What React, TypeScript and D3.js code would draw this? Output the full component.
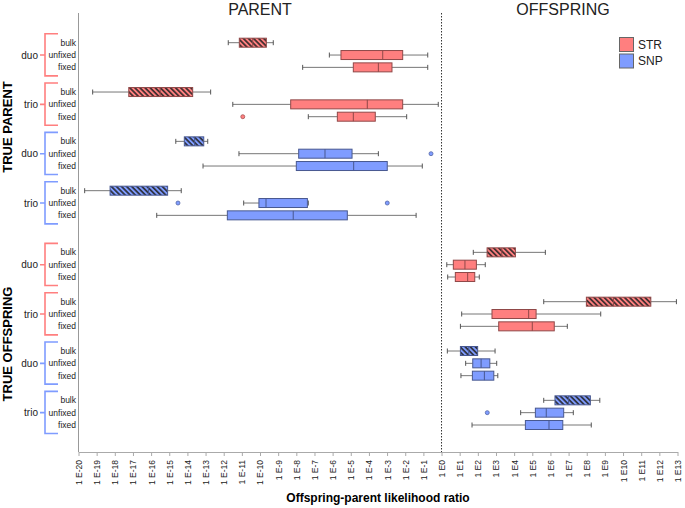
import React, { useEffect, useRef } from 'react';
import * as d3 from 'd3';

// log10 likelihood ratio, each box: [whiskerLow, q1, median, q3, whiskerHigh]
const rowLabels = ['bulk', 'unfixed', 'fixed'];
const groupLabels = ['duo', 'trio', 'duo', 'trio'];
const groupMarkers = ['STR', 'STR', 'SNP', 'SNP'];

const parentBoxes = [
  [-11.75, -11.14, -10.4, -9.65, -9.27],
  [-6.18, -5.54, -3.24, -2.14, -0.76],
  [-7.65, -4.86, -3.48, -2.73, -0.76],
  [-19.22, -17.23, -15.5, -13.71, -12.72],
  [-11.5, -8.31, -4.09, -2.14, -0.18],
  [-7.34, -5.74, -4.86, -3.65, -1.92],
  [-14.64, -14.17, -13.6, -13.1, -12.88],
  [-11.16, -7.87, -6.42, -4.93, -3.48],
  [-13.14, -8.0, -4.84, -2.99, -1.06],
  [-19.66, -18.26, -16.15, -15.09, -14.34],
  [-10.9, -10.06, -9.67, -7.39, -7.34],
  [-15.69, -11.8, -8.17, -5.19, -1.4],
];

const offspringBoxes = [
  [1.75, 2.51, 3.32, 4.07, 5.72],
  [0.29, 0.65, 1.29, 1.92, 2.41],
  [0.34, 0.76, 1.44, 1.83, 2.08],
  [5.63, 7.98, 9.47, 11.53, 12.94],
  [1.11, 2.78, 4.8, 5.21, 8.77],
  [1.04, 3.15, 5.0, 6.21, 6.93],
  [0.32, 1.04, 1.5, 1.99, 2.95],
  [1.33, 1.72, 2.18, 2.66, 3.04],
  [1.07, 1.7, 2.36, 2.88, 3.1],
  [5.63, 6.25, 7.0, 8.2, 8.72],
  [4.36, 5.17, 5.77, 6.73, 7.26],
  [1.68, 4.62, 5.92, 6.68, 8.25],
];

// [row index, value]
const parentOutliers = [[5, -10.95], [7, -0.58], [10, -14.52], [10, -2.99]];
const offspringOutliers = [[10, 2.52]];

const tickExps = [-20, -19, -18, -17, -16, -15, -14, -13, -12, -11, -10, -9, -8, -7, -6, -5, -4, -3, -2, -1,
  0, 1, 2, 3, 4, 5, 6, 7, 8, 9, 10, 11, 12, 13];

const colors = { STR: '#ff7f7f', SNP: '#7f9cff' };

const W = 685;
const H = 508;

const App = () => {
  const ref = useRef(null);

  useEffect(() => {
    const svg = d3.select(ref.current);
    svg.selectAll('*').remove();
    const font = 'Liberation Sans, Arial, sans-serif';

    const x = d3.scaleLinear().domain([-20, 13]).range([78.5, 677.5]);
    const y = d3.scaleLinear().domain([0, 31]).range([42.7, 425]);
    const top = 13;
    const axisY = 452;
    const boxH = 9;

    const defs = svg.append('defs');
    ['STR', 'SNP'].forEach(m => {
      const p = defs.append('pattern')
        .attr('id', 'hatch-' + m)
        .attr('patternUnits', 'userSpaceOnUse')
        .attr('width', 3.6)
        .attr('height', 3.6)
        .attr('patternTransform', 'rotate(-45)');
      p.append('rect').attr('width', 3.6).attr('height', 3.6).attr('fill', colors[m]);
      p.append('line').attr('x1', 0.9).attr('x2', 0.9).attr('y1', 0).attr('y2', 3.6)
        .attr('stroke', '#222').attr('stroke-width', 1.5);
    });

    // axes frame
    svg.append('line').attr('x1', x(-20)).attr('x2', x(-20)).attr('y1', top).attr('y2', axisY)
      .attr('stroke', '#999').attr('stroke-width', 1);
    svg.append('line').attr('x1', x(0)).attr('x2', x(0)).attr('y1', top).attr('y2', axisY)
      .attr('stroke', '#333').attr('stroke-width', 1).attr('stroke-dasharray', '1.5,1.5');

    const xAxis = svg.append('g')
      .attr('transform', `translate(0,${axisY})`)
      .call(d3.axisBottom(x).tickValues(tickExps).tickSize(4).tickSizeOuter(0).tickFormat(d => `1 E${d}`));
    xAxis.select('.domain').attr('stroke', '#aaa');
    xAxis.selectAll('.tick line').attr('stroke', '#aaa');
    xAxis.selectAll('.tick text')
      .attr('transform', 'rotate(-90)')
      .attr('text-anchor', 'end')
      .attr('x', -8)
      .attr('y', 0)
      .attr('dy', '0.35em')
      .attr('fill', '#222')
      .style('font-family', font)
      .style('font-size', '8.5px');

    svg.append('text').attr('x', 378).attr('y', 502).attr('text-anchor', 'middle')
      .style('font-family', font).style('font-size', '12px').style('font-weight', 'bold')
      .text('Offspring-parent likelihood ratio');

    svg.append('text').attr('x', (x(-20) + x(0)) / 2).attr('y', 15).attr('text-anchor', 'middle')
      .style('font-family', font).style('font-size', '16px').attr('fill', '#222').text('PARENT');
    svg.append('text').attr('x', 563).attr('y', 15).attr('text-anchor', 'middle')
      .style('font-family', font).style('font-size', '16px').attr('fill', '#222').text('OFFSPRING');

    // side titles
    [['TRUE PARENT', 127], ['TRUE OFFSPRING', 344]].forEach(([t, cy]) => {
      svg.append('text')
        .attr('transform', `translate(12,${cy}) rotate(-90)`)
        .attr('text-anchor', 'middle')
        .style('font-family', font).style('font-size', '13px').style('font-weight', 'bold')
        .text(t);
    });

    const sections = [
      { start: 0, boxes: parentBoxes, outliers: parentOutliers },
      { start: 17, boxes: offspringBoxes, outliers: offspringOutliers },
    ];

    sections.forEach(sec => {
      const slot = i => sec.start + Math.floor(i / 3) * 4 + (i % 3);

      // group brackets + labels
      groupLabels.forEach((g, gi) => {
        const s0 = sec.start + gi * 4;
        const c = colors[groupMarkers[gi]];
        const y0 = y(s0) - 9;
        const y1 = y(s0 + 2) + 8.5;
        svg.append('path')
          .attr('d', `M58,${y0}H45V${y1}H58M45,${y(s0 + 1)}H40`)
          .attr('fill', 'none').attr('stroke', c).attr('stroke-width', 1.6);
        svg.append('text').attr('x', 38).attr('y', y(s0 + 1)).attr('dy', '0.35em')
          .attr('text-anchor', 'end').attr('fill', '#222')
          .style('font-family', font).style('font-size', '10px').text(g);
        rowLabels.forEach((r, ri) => {
          svg.append('text').attr('x', 76).attr('y', y(s0 + ri)).attr('dy', '0.35em')
            .attr('text-anchor', 'end').attr('fill', '#222')
            .style('font-family', font).style('font-size', '8.5px').text(r);
        });
      });

      // boxes
      sec.boxes.forEach((b, i) => {
        const marker = groupMarkers[Math.floor(i / 3)];
        const c = colors[marker];
        const stroke = d3.color(c).darker(1.6).formatHex();
        const cy = y(slot(i));
        const [lo, q1, med, q3, hi] = b;
        const g = svg.append('g');
        g.append('line').attr('x1', x(lo)).attr('x2', x(q1)).attr('y1', cy).attr('y2', cy)
          .attr('stroke', '#777');
        g.append('line').attr('x1', x(q3)).attr('x2', x(hi)).attr('y1', cy).attr('y2', cy)
          .attr('stroke', '#777');
        [lo, hi].forEach(v => {
          g.append('line').attr('x1', x(v)).attr('x2', x(v)).attr('y1', cy - 2.5).attr('y2', cy + 2.5)
            .attr('stroke', '#555');
        });
        const fill = i % 3 === 0 ? `url(#hatch-${marker})` : c;
        g.append('rect')
          .attr('x', x(q1)).attr('y', cy - boxH / 2)
          .attr('width', x(q3) - x(q1)).attr('height', boxH)
          .attr('fill', fill).attr('stroke', stroke).attr('stroke-width', 1);
        g.append('line').attr('x1', x(med)).attr('x2', x(med)).attr('y1', cy - boxH / 2).attr('y2', cy + boxH / 2)
          .attr('stroke', stroke).attr('stroke-width', 1);
      });

      sec.outliers.forEach(([i, v]) => {
        const c = colors[groupMarkers[Math.floor(i / 3)]];
        svg.append('circle').attr('cx', x(v)).attr('cy', y(slot(i))).attr('r', 2)
          .attr('fill', c).attr('stroke', d3.color(c).darker(1.2).formatHex()).attr('stroke-width', 0.8);
      });
    });

    // legend
    ['STR', 'SNP'].forEach((m, i) => {
      const ly = 37.5 + i * 16.5;
      svg.append('rect').attr('x', 619.5).attr('y', ly).attr('width', 14).attr('height', 14)
        .attr('fill', colors[m]).attr('stroke', '#666').attr('stroke-width', 1);
      svg.append('text').attr('x', 638).attr('y', ly + 7).attr('dy', '0.35em')
        .attr('fill', '#222')
        .style('font-family', font).style('font-size', '12px').text(m);
    });
  }, []);

  return (
    <svg ref={ref} width={W} height={H}
      style={{ position: 'absolute', left: 0, top: 0, background: '#fff' }} />
  );
};

export default App;
